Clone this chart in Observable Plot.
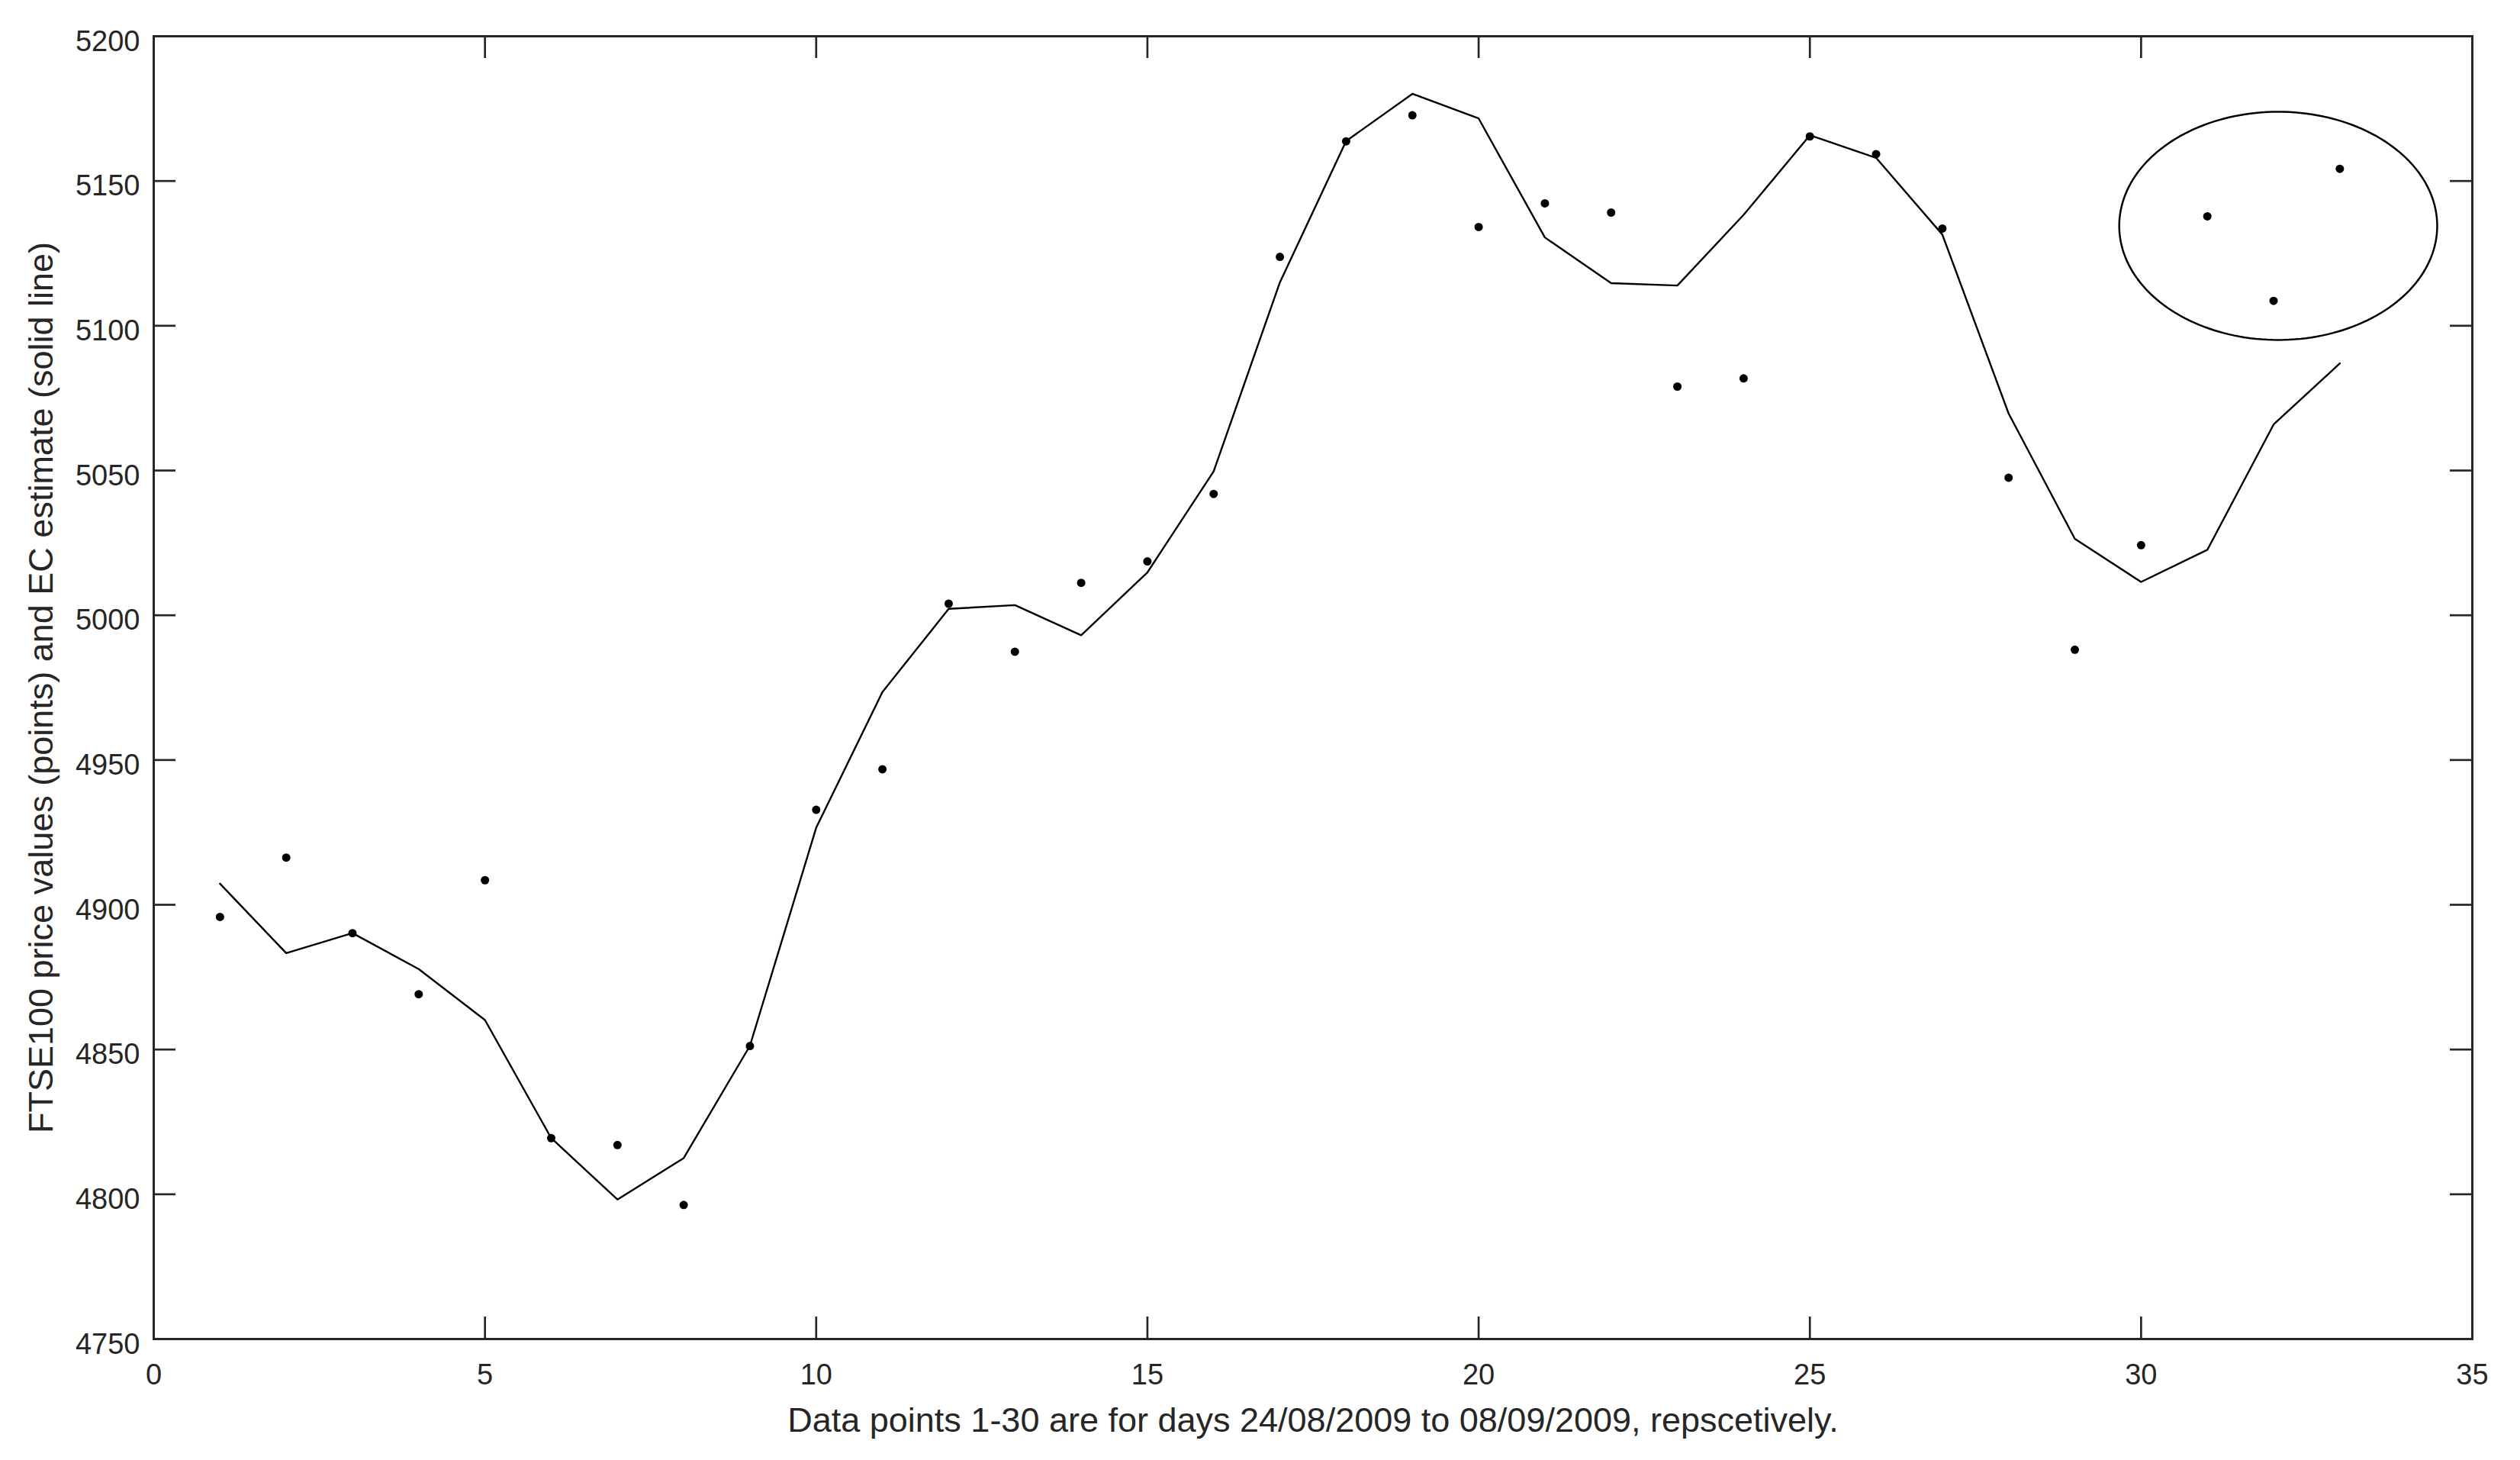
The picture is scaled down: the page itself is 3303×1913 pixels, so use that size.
<!DOCTYPE html>
<html>
<head>
<meta charset="utf-8">
<script src="https://cdn.jsdelivr.net/npm/d3@7"></script>
<script src="https://cdn.jsdelivr.net/npm/@observablehq/plot@0.6"></script>
<style>
  html, body { margin: 0; padding: 0; background: #ffffff; }
  #chart svg { display: block; }
</style>
</head>
<body>
<div id="chart"></div>
<script>
// ---- data ----
const days = [1,2,3,4,5,6,7,8,9,10,11,12,13,14,15,16,17,18,19,20,21,22,23,24,25,26,27,28,29,30,31,32,33];
const priceValues = [
  4895.8, 4916.3, 4890.2, 4869.1, 4908.5, 4819.4, 4817.0, 4796.3, 4851.2, 4932.8,
  4946.8, 5004.0, 4987.4, 5011.2, 5018.6, 5041.9, 5123.8, 5163.7, 5172.7, 5134.1,
  5142.3, 5139.1, 5079.0, 5081.8, 5165.4, 5159.3, 5133.6, 5047.5, 4988.1, 5024.2,
  5137.8, 5108.6, 5154.2
];
const ecEstimate = [
  4907.3, 4883.3, 4890.2, 4877.8, 4860.2, 4819.4, 4798.2, 4812.5, 4851.3, 4926.6,
  4973.5, 5002.2, 5003.5, 4993.1, 5014.8, 5049.7, 5115.0, 5163.8, 5180.1, 5171.6,
  5130.5, 5114.7, 5113.9, 5138.3, 5165.8, 5158.0, 5131.5, 5069.7, 5026.4, 5011.5,
  5022.6, 5065.9, 5087.0
];
const xTicks = [0, 5, 10, 15, 20, 25, 30, 35];
const yTicks = [4750, 4800, 4850, 4900, 4950, 5000, 5050, 5100, 5150, 5200];
const xLabel = "Data points 1-30 are for days 24/08/2009 to 08/09/2009, repscetively.";
const yLabel = "FTSE100 price values (points) and EC estimate (solid line)";
// highlighted group (ellipse annotation), in data units
const ellipseCenter = [32.07, 5134.5];
const ellipseRadii = [2.40, 39.4];

// ---- layout ----
const W = 3303, H = 1913;
const M = {top: 47, right: 63, bottom: 159, left: 201};
const innerW = W - M.left - M.right;
const innerH = H - M.top - M.bottom;
const tickLen = 29;
const ink = "#262626";

const points = days.map((d, i) => ({day: d, value: priceValues[i]}));
const estimate = days.map((d, i) => ({day: d, value: ecEstimate[i]}));
const ellipsePts = d3.range(0, 361, 2).map(a => {
  const t = a * Math.PI / 180;
  return {x: ellipseCenter[0] + ellipseRadii[0] * Math.cos(t),
          y: ellipseCenter[1] + ellipseRadii[1] * Math.sin(t)};
});

const chart = Plot.plot({
  width: W,
  height: H,
  marginTop: M.top,
  marginRight: M.right,
  marginBottom: M.bottom,
  marginLeft: M.left,
  style: {
    fontFamily: "'Liberation Sans', Arial, Helvetica, sans-serif",
    background: "#ffffff",
    color: ink
  },
  x: {domain: [0, 35]},
  y: {domain: [4750, 5200]},
  marks: [
    // inward ticks on all four sides
    Plot.tickX(xTicks, {x: d => d, insetTop: innerH - tickLen, stroke: ink, strokeWidth: 2.7}),
    Plot.tickX(xTicks, {x: d => d, insetBottom: innerH - tickLen, stroke: ink, strokeWidth: 2.7}),
    Plot.tickY(yTicks, {y: d => d, insetRight: innerW - tickLen, stroke: ink, strokeWidth: 2.7}),
    Plot.tickY(yTicks, {y: d => d, insetLeft: innerW - tickLen, stroke: ink, strokeWidth: 2.7}),
    Plot.axisX(xTicks, {anchor: "bottom", tickSize: 0, tickPadding: 33, fontSize: 38, fill: ink, label: null, tickFormat: d => String(d)}),
    Plot.axisY(yTicks, {anchor: "left", tickSize: 0, tickPadding: 18, fontSize: 38, fill: ink, label: null, dy: 7, tickFormat: d => String(d)}),
    Plot.frame({stroke: ink, strokeWidth: 3}),
    // EC estimate (solid line)
    Plot.line(estimate, {x: "day", y: "value", stroke: "#000000", strokeWidth: 2.4}),
    // FTSE100 price values (points)
    Plot.dot(points, {x: "day", y: "value", r: 5.5, fill: "#000000", stroke: "none"}),
    // ellipse annotation
    Plot.line(ellipsePts, {x: "x", y: "y", stroke: "#000000", strokeWidth: 2.5}),
    // axis labels
    Plot.text([xLabel], {text: d => d, frameAnchor: "bottom", lineAnchor: "bottom", textAnchor: "middle", dy: 121, fontSize: 45, fill: ink}),
    Plot.text([yLabel], {text: d => d, frameAnchor: "left", lineAnchor: "bottom", textAnchor: "middle", rotate: -90, dx: -133, fontSize: 45, fill: ink})
  ]
});
document.getElementById("chart").appendChild(chart);
</script>
</body>
</html>
